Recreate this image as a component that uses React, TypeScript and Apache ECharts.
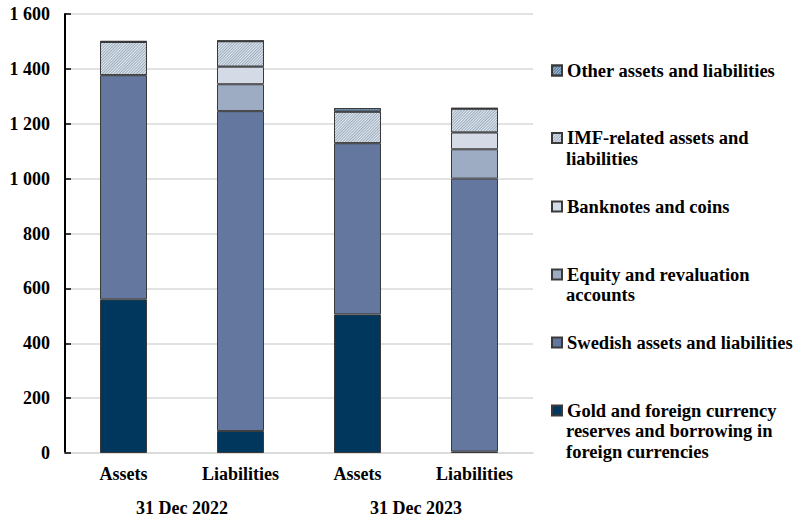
import React, { useEffect, useRef } from "react";
import * as echarts from "echarts";

const categories = ["Assets", "Liabilities", "Assets", "Liabilities"];
const periods = ["31 Dec 2022", "31 Dec 2023"];

const goldValues = [560, 80, 505, 5];
const swedishValues = [817, 1166, 624, 995];
const equityValues = [null, 98, null, 107];
const banknoteValues = [null, 64, null, 61];
const imfValues = [121, 93, 115, 87];
const otherValues = [4, 1, 13, 2];

const seriesNames = [
  "Gold and foreign currency reserves and borrowing in foreign currencies",
  "Swedish assets and liabilities",
  "Equity and revaluation accounts",
  "Banknotes and coins",
  "IMF-related assets and liabilities",
  "Other assets and liabilities",
];
const legendLines = [
  ["Gold and foreign currency", "reserves and borrowing in", "foreign currencies"],
  ["Swedish assets and liabilities"],
  ["Equity and revaluation", "accounts"],
  ["Banknotes and coins"],
  ["IMF-related assets and", "liabilities"],
  ["Other assets and liabilities"],
];
const legendCenters = [410.5, 342.5, 274.5, 206.5, 138, 70.5];

const FONT = "'Liberation Serif', 'Times New Roman', serif";

export default function App() {
  const ref = useRef<HTMLDivElement>(null);
  useEffect(() => {
    if (!ref.current) return;
    const chart = echarts.init(ref.current, undefined, { renderer: "svg" });
    const values = [goldValues, swedishValues, equityValues, banknoteValues, imfValues, otherValues];
    const colors = ["#01375C", "#64779F", "#9DACC2", "#D5DBE6", "#E3E9EF", "#A9BED2"];
    const decals: any[] = [
      null,
      null,
      null,
      null,
      {
        symbol: "rect",
        symbolSize: 1,
        dashArrayX: [1, 0],
        dashArrayY: [1, 1],
        rotation: -Math.PI / 4,
        color: "#9AACBE",
        backgroundColor: "#E8EEF3",
      },
      {
        symbol: "rect",
        symbolSize: 1,
        dashArrayX: [1, 0],
        dashArrayY: [1, 1],
        rotation: -Math.PI / 4,
        color: "#4A7399",
        backgroundColor: "#A9C0D6",
      },
    ];
    const series = seriesNames.map((name, i) => ({
      name,
      type: "bar",
      stack: "total",
      barWidth: 47,
      xAxisIndex: 0,
      data: values[i],
      itemStyle: {
        color: colors[i],
        borderColor: "#3a3a3a",
        borderWidth: 1,
        ...(decals[i] ? { decal: decals[i] } : {}),
      },
    }));
    const legends = seriesNames.map((name, i) => ({
      data: [name],
      left: 551,
      top: legendCenters[i] - 10,
      padding: 0,
      itemWidth: 10,
      itemHeight: 10,
      icon: "rect",
      selectedMode: false,
      formatter: () => legendLines[i][0],
      textStyle: {
        fontFamily: FONT,
        fontWeight: "bold",
        fontSize: 18.5,
        lineHeight: 20,
        color: "#000",
      },
    }));
    const graphics: any[] = [];
    legendLines.forEach((lines, i) => {
      lines.slice(1).forEach((line, j) => {
        graphics.push({
          type: "text",
          left: 566,
          top: legendCenters[i] + 20.5 * (j + 1) - 10,
          style: {
            text: line,
            fontFamily: FONT,
            fontWeight: "bold",
            fontSize: 18.5,
            lineHeight: 20,
            fill: "#000",
          },
        });
      });
    });
    const labelStyle = {
      fontFamily: FONT,
      fontWeight: "bold",
      fontSize: 18,
      color: "#000",
    };
    chart.setOption({
      animation: false,
      grid: { left: 65, right: 262, top: 14, bottom: 64 },
      xAxis: [
        {
          type: "category",
          data: categories,
          axisLine: { lineStyle: { color: "#d9d9d9", width: 1.5 } },
          axisTick: { show: false },
          axisLabel: { ...labelStyle, margin: 12, interval: 0 },
        },
        {
          type: "category",
          data: periods,
          position: "bottom",
          offset: 34,
          axisLine: { show: false },
          axisTick: { show: false },
          axisLabel: { ...labelStyle, margin: 12, interval: 0 },
        },
      ],
      yAxis: {
        type: "value",
        min: 0,
        max: 1600,
        interval: 200,
        axisLine: { show: true, lineStyle: { color: "#000", width: 2 } },
        axisTick: { show: true, inside: true, length: 6, lineStyle: { color: "#000", width: 1.5 } },
        splitLine: { lineStyle: { color: "#d9d9d9", width: 1.5 } },
        axisLabel: {
          ...labelStyle,
          margin: 15,
          formatter: (v: number) => String(v).replace(/\B(?=(\d{3})+(?!\d))/g, " "),
        },
      },
      legend: legends,
      graphic: graphics,
      series,
    });
    return () => chart.dispose();
  }, []);
  return (
    <div
      ref={ref}
      style={{ position: "fixed", left: 0, top: 0, width: 795, height: 517, background: "#fff" }}
    />
  );
}
